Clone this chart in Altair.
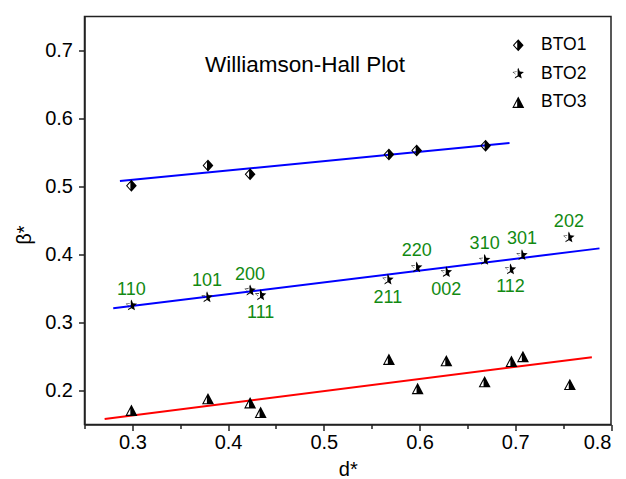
import math
import altair as alt
import pandas as pd

# ---------------- data ----------------
series_names = ["BTO1", "BTO2", "BTO3"]

d_bto1 = [0.299, 0.379, 0.423, 0.568, 0.597, 0.669]
b_bto1 = [0.501, 0.531, 0.518, 0.547, 0.553, 0.560]

d_bto2 = [0.299, 0.378, 0.423, 0.434, 0.567, 0.597, 0.628, 0.668, 0.695, 0.707, 0.756]
b_bto2 = [0.325, 0.337, 0.347, 0.340, 0.363, 0.381, 0.374, 0.392, 0.378, 0.399, 0.425]
hkl = ["110", "101", "200", "111", "211", "220", "002", "310", "112", "301", "202"]
label_side = ["above", "above", "above", "below", "below", "above",
              "below", "above", "below", "above", "above"]

d_bto3 = [0.299, 0.379, 0.423, 0.434, 0.568, 0.598, 0.628, 0.668, 0.696, 0.708, 0.757]
b_bto3 = [0.171, 0.188, 0.182, 0.168, 0.246, 0.203, 0.244, 0.213, 0.243, 0.250, 0.209]

# fitted straight lines (end points)
fit_names = ["fit1", "fit2", "fit3"]
fit_x_start = [0.287, 0.280, 0.271]
fit_x_end = [0.694, 0.788, 0.780]
fit_y_start = [0.508, 0.321, 0.158]
fit_y_end = [0.564, 0.409, 0.249]
fit_colors = ["#0000ff", "#0000ff", "#ff0000"]

# ---------------- half-filled symbol shapes ----------------
def signed_area(p):
    a = 0.0
    for i in range(len(p)):
        x1, y1 = p[i]
        x2, y2 = p[(i + 1) % len(p)]
        a += x1 * y2 - x2 * y1
    return a / 2


def inset(p, d):
    n = len(p)
    s = 1 if signed_area(p) > 0 else -1
    lines = []
    for i in range(n):
        (x1, y1), (x2, y2) = p[i], p[(i + 1) % n]
        L = math.hypot(x2 - x1, y2 - y1)
        tx, ty = (x2 - x1) / L, (y2 - y1) / L
        nx, ny = -ty * s, tx * s
        lines.append(((x1 + nx * d, y1 + ny * d), (tx, ty)))
    out = []
    for i in range(n):
        p1, t1 = lines[i - 1]
        p2, t2 = lines[i]
        det = t1[0] * (-t2[1]) - t1[1] * (-t2[0])
        dx, dy = p2[0] - p1[0], p2[1] - p1[1]
        a = (dx * (-t2[1]) - dy * (-t2[0])) / det
        out.append((p1[0] + a * t1[0], p1[1] + a * t1[1]))
    return out


def shrink(p, k):
    cx = sum(q[0] for q in p) / len(p)
    cy = sum(q[1] for q in p) / len(p)
    return [(cx + (x - cx) * k, cy + (y - cy) * k) for x, y in p]


def to_path(p):
    return "M" + " L".join(f"{x:.3f},{y:.3f}" for x, y in p) + " Z"


def half_filled(outer, hole):
    if (signed_area(outer) > 0) == (signed_area(hole) > 0):
        hole = list(reversed(hole))
    return to_path(outer) + " " + to_path(hole)


diamond = [(0, -1), (0.9, 0), (0, 1), (-0.9, 0)]
diamond_left = [(0, -1), (0, 1), (-0.9, 0)]
tri = [(0, -0.95), (1, 0.95), (-1, 0.95)]
tri_left = [(0, -0.95), (0, 0.95), (-1, 0.95)]
ro, ri = 1.0, 0.45
star = []
for k in range(10):
    ang = math.radians(-90 + 36 * k)
    r = ro if k % 2 == 0 else ri
    star.append((r * math.cos(ang), r * math.sin(ang)))
star_left = [(0, -1), (0, star[5][1]), star[6], star[7], star[8], star[9]]

shape_diamond = half_filled(diamond, inset(diamond_left, 0.17))
shape_tri = half_filled(tri, inset(tri_left, 0.18))
shape_star = half_filled(star, shrink(star_left, 0.72))

# ---------------- tables ----------------
pts = pd.DataFrame({
    "d": d_bto1 + d_bto2 + d_bto3,
    "b": b_bto1 + b_bto2 + b_bto3,
    "series": ["BTO1"] * len(d_bto1) + ["BTO2"] * len(d_bto2) + ["BTO3"] * len(d_bto3),
})
labels = pd.DataFrame({"d": d_bto2, "b": b_bto2, "hkl": hkl, "side": label_side})
fits = pd.DataFrame({
    "fit": fit_names * 2,
    "d": fit_x_start + fit_x_end,
    "b": fit_y_start + fit_y_end,
})

FONT = "Liberation Sans"
GREEN = "#128a12"

xscale = alt.Scale(domain=[0.25, 0.8], nice=False, zero=False)
yscale = alt.Scale(domain=[0.15, 0.75], nice=False, zero=False)

minor_test = "round(datum.value*100) % 10 != 0"
major_label = "round(datum.value*100) % 10 == 0 ? format(datum.value, '.1f') : ''"
xaxis = alt.Axis(
    values=[round(0.25 + 0.05 * i, 2) for i in range(12)],
    labelExpr=major_label, labelOverlap=False,
    tickSize={"condition": {"test": minor_test, "value": 4}, "value": 6},
    title="d*", grid=False, labelPadding=2, titlePadding=7,
)
yaxis = alt.Axis(
    values=[round(0.2 + 0.05 * i, 2) for i in range(12)],
    labelExpr=major_label, labelOverlap=False,
    tickSize={"condition": {"test": minor_test, "value": 4}, "value": 6},
    title="β*", grid=False, labelPadding=6, titlePadding=10, titleY=218,
)

lines = alt.Chart(fits).mark_line(strokeWidth=2).encode(
    x=alt.X("d:Q", scale=xscale, axis=xaxis),
    y=alt.Y("b:Q", scale=yscale, axis=yaxis),
    detail="fit:N",
    color=alt.Color("fit:N", scale=alt.Scale(domain=fit_names, range=fit_colors), legend=None),
)

points = alt.Chart(pts).mark_point(filled=True, opacity=1, strokeWidth=0, color="black", size=144).encode(
    x=alt.X("d:Q", scale=xscale),
    y=alt.Y("b:Q", scale=yscale),
    shape=alt.Shape(
        "series:N",
        scale=alt.Scale(domain=series_names, range=[shape_diamond, shape_star, shape_tri]),
        legend=alt.Legend(
            title=None, orient="none", legendX=425, legendY=20,
            labelFont=FONT, labelFontSize=17.5, labelColor="black",
            symbolSize=144, symbolFillColor="black", symbolStrokeWidth=0,
            symbolOpacity=1, labelOffset=14, rowPadding=9.5, padding=0,
        ),
    ),
)

text_above = alt.Chart(labels).transform_filter("datum.side == 'above'").mark_text(
    dy=-16, fontSize=18, font=FONT, color=GREEN
).encode(x=alt.X("d:Q", scale=xscale), y=alt.Y("b:Q", scale=yscale), text="hkl:N")

text_below = alt.Chart(labels).transform_filter("datum.side == 'below'").mark_text(
    dy=18, fontSize=18, font=FONT, color=GREEN
).encode(x=alt.X("d:Q", scale=xscale), y=alt.Y("b:Q", scale=yscale), text="hkl:N")

chart = alt.layer(lines, points, text_above, text_below).properties(
    width=526.5,
    height=408,
    padding={"left": 84.5, "top": 16.5, "right": 15, "bottom": 54.5},
    autosize="none",
    title=alt.TitleParams(
        "Williamson-Hall Plot", anchor="start", frame="group", dx=120.5,
        offset=-78, baseline="alphabetic", font=FONT, fontSize=22.5,
        fontWeight="normal", color="black",
    ),
).configure_view(stroke="#222222", strokeWidth=1.5).configure_axis(
    domainColor="#222222", domainWidth=1.5, tickColor="#222222", tickWidth=1.5,
    labelFont=FONT, labelFontSize=20, labelColor="black",
    titleFont=FONT, titleFontSize=20, titleFontWeight="normal", titleColor="black",
)

chart.save("out.html", embed_options={"renderer": "svg", "actions": False})
